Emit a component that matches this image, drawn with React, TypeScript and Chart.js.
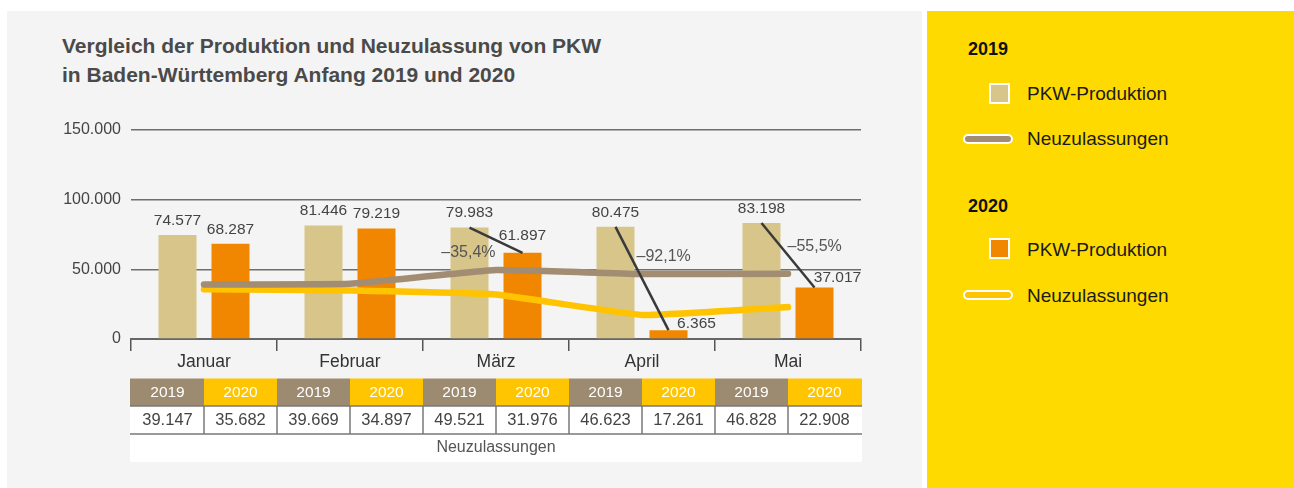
import React, { useEffect, useRef } from 'react';
import { Chart, registerables } from 'chart.js';

Chart.register(...registerables);

// ---------- data ----------
const months = ['Januar', 'Februar', 'März', 'April', 'Mai'];
const years = ['2019', '2020'];
const production2019 = [74577, 81446, 79983, 80475, 83198];
const production2020 = [68287, 79219, 61897, 6365, 37017];
const registrations2019 = [39147, 39669, 49521, 46623, 46828];
const registrations2020 = [35682, 34897, 31976, 17261, 22908];
const changeLabels = ['', '', '–35,4%', '–92,1%', '–55,5%'];
const yTicks = [0, 50000, 100000, 150000];
const titleLines = [
  'Vergleich der Produktion und Neuzulassung von PKW',
  'in Baden-Württemberg Anfang 2019 und 2020',
];
const tableCaption = 'Neuzulassungen';
const legendProduction = 'PKW-Produktion';
const legendRegistrations = 'Neuzulassungen';

// ---------- styles ----------
const FONT = '"Liberation Sans", Arial, Helvetica, sans-serif';
const COL = {
  panel: '#f4f4f4',
  yellow: '#ffda00',
  bar19: '#d7c58a',
  bar20: '#f18700',
  line19: '#a28d72',
  line20: '#ffc300',
  head19: '#9d8b71',
  head20: '#ffc500',
  text: '#444444',
  grid: '#6e6e6e',
};
// label shifts (style only) for the 2020 value labels
const label20Shift = [
  [0, 0],
  [0, 0],
  [0, -3],
  [28, 8],
  [23, 5],
];
const changeLabelPlace: any[] = [
  null,
  null,
  { align: 'right', dx: 26, dy: 25 },
  { align: 'left', dx: 21, dy: 30 },
  { align: 'left', dx: 26, dy: 24 },
];

const fmt = (v: number) => String(v).replace(/\B(?=(\d{3})+(?!\d))/g, '.');

const annotatePlugin = {
  id: 'annotate',
  afterDatasetsDraw(chart: any) {
    const ctx = chart.ctx;
    const m0 = chart.getDatasetMeta(0);
    const m1 = chart.getDatasetMeta(1);
    ctx.save();
    changeLabels.forEach((lab, i) => {
      if (!lab) return;
      const a = m0.data[i];
      const b = m1.data[i];
      ctx.strokeStyle = '#3a3a3a';
      ctx.lineWidth = 2.5;
      ctx.beginPath();
      ctx.moveTo(a.x, a.y);
      ctx.lineTo(b.x, b.y);
      ctx.stroke();
      const p = changeLabelPlace[i];
      ctx.font = `16px ${FONT}`;
      ctx.fillStyle = '#555';
      ctx.textAlign = p.align;
      ctx.textBaseline = 'middle';
      ctx.fillText(lab, a.x + p.dx, a.y + p.dy);
    });
    ctx.font = `15.5px ${FONT}`;
    ctx.fillStyle = COL.text;
    ctx.textAlign = 'center';
    ctx.textBaseline = 'middle';
    m0.data.forEach((el: any, i: number) => {
      ctx.fillText(fmt(production2019[i]), el.x, el.y - 14.5);
    });
    m1.data.forEach((el: any, i: number) => {
      const s = label20Shift[i];
      ctx.fillText(fmt(production2020[i]), el.x + s[0], el.y - 14.5 + s[1]);
    });
    ctx.restore();
  },
};

const tablePlugin = {
  id: 'regTable',
  afterDraw(chart: any) {
    const { ctx, chartArea } = chart;
    const x = chart.scales.x;
    const n = months.length;
    const catW = (x.right - x.left) / n;
    const cellW = catW / 2;
    const left = x.left - 1;
    const right = x.right + 1;
    const top = chartArea.bottom + 39.5;
    const headH = 27.5;
    const rowH = 28;
    const rows = [registrations2019, registrations2020];
    ctx.save();
    // header
    for (let i = 0; i < n; i++) {
      for (let j = 0; j < 2; j++) {
        const cx = x.left + i * catW + j * cellW;
        const l = i === 0 && j === 0 ? left : cx;
        const r = i === n - 1 && j === 1 ? right : cx + cellW;
        ctx.fillStyle = j === 0 ? COL.head19 : COL.head20;
        ctx.fillRect(l, top, r - l, headH);
        ctx.fillStyle = '#ffffff';
        ctx.font = `15.5px ${FONT}`;
        ctx.textAlign = 'center';
        ctx.textBaseline = 'middle';
        ctx.fillText(years[j], cx + cellW / 2, top + headH / 2 + 0.5);
      }
    }
    // white rows
    ctx.fillStyle = '#ffffff';
    ctx.fillRect(left, top + headH, right - left, rowH * 2);
    // values
    for (let i = 0; i < n; i++) {
      for (let j = 0; j < 2; j++) {
        const cx = x.left + i * catW + j * cellW;
        ctx.fillStyle = COL.text;
        ctx.font = `16.5px ${FONT}`;
        ctx.textAlign = 'center';
        ctx.textBaseline = 'middle';
        ctx.fillText(fmt(rows[j][i]), cx + cellW / 2, top + headH + rowH / 2 + 0.5);
      }
    }
    // borders
    ctx.strokeStyle = '#7a7a7a';
    ctx.lineWidth = 1.5;
    ctx.beginPath();
    ctx.moveTo(left, top + headH);
    ctx.lineTo(right, top + headH);
    ctx.moveTo(left, top + headH + rowH);
    ctx.lineTo(right, top + headH + rowH);
    for (let k = 1; k < n * 2; k++) {
      const vx = x.left + k * cellW;
      ctx.moveTo(vx, top + headH);
      ctx.lineTo(vx, top + headH + rowH);
    }
    ctx.stroke();
    // caption
    ctx.fillStyle = '#555';
    ctx.font = `16px ${FONT}`;
    ctx.textAlign = 'center';
    ctx.textBaseline = 'middle';
    ctx.fillText(tableCaption, (left + right) / 2, top + headH + rowH * 1.5);
    ctx.restore();
  },
};

function ChartCanvas() {
  const ref = useRef<HTMLCanvasElement | null>(null);
  useEffect(() => {
    if (!ref.current) return;
    const chart = new Chart(ref.current, {
      type: 'bar',
      data: {
        labels: months,
        datasets: [
          {
            type: 'bar',
            label: '2019 PKW-Produktion',
            data: production2019,
            backgroundColor: COL.bar19,
            categoryPercentage: 0.726,
            barPercentage: 0.717,
            order: 2,
          },
          {
            type: 'bar',
            label: '2020 PKW-Produktion',
            data: production2020,
            backgroundColor: COL.bar20,
            categoryPercentage: 0.726,
            barPercentage: 0.717,
            order: 2,
          },
          {
            type: 'line',
            label: '2019 Neuzulassungen',
            data: registrations2019,
            borderColor: COL.line19,
            borderWidth: 6.5,
            pointRadius: 0,
            tension: 0.1,
            borderCapStyle: 'round',
            borderJoinStyle: 'round',
            order: 1,
          },
          {
            type: 'line',
            label: '2020 Neuzulassungen',
            data: registrations2020,
            borderColor: COL.line20,
            borderWidth: 6.5,
            pointRadius: 0,
            tension: 0.1,
            borderCapStyle: 'round',
            borderJoinStyle: 'round',
            order: 1,
          },
        ] as any,
      },
      options: {
        responsive: false,
        animation: false,
        devicePixelRatio: 1,
        layout: { padding: { left: 0, right: 61, top: 119, bottom: 0 } },
        plugins: { legend: { display: false }, tooltip: { enabled: false } },
        scales: {
          x: {
            offset: true,
            grid: {
              offset: true,
              drawOnChartArea: false,
              drawTicks: true,
              tickLength: 12,
              tickColor: '#555',
              tickWidth: 1.5,
              color: '#555',
              lineWidth: 1.5,
            },
            border: { display: true, color: '#666', width: 2 },
            ticks: { font: { family: FONT, size: 17.5 }, color: '#333', padding: 1, maxRotation: 0 },
            afterFit: (s: any) => {
              s.height = 149;
            },
          },
          y: {
            min: 0,
            max: 150000,
            afterBuildTicks: (s: any) => {
              s.ticks = yTicks.map((v) => ({ value: v }));
            },
            grid: { color: COL.grid, lineWidth: 1.5, drawTicks: false },
            border: { display: false },
            ticks: {
              font: { family: FONT, size: 16 },
              color: COL.text,
              padding: 10,
              callback: (v: any) => fmt(Number(v)),
            },
            afterFit: (s: any) => {
              s.width = 124;
            },
          },
        },
      } as any,
      plugins: [annotatePlugin, tablePlugin],
    });
    return () => chart.destroy();
  }, []);
  return (
    <canvas
      ref={ref}
      width={915}
      height={477}
      style={{ position: 'absolute', left: 7, top: 11, width: 915, height: 477 }}
    />
  );
}

const legendText: React.CSSProperties = {
  position: 'absolute',
  left: 1027,
  fontFamily: FONT,
  fontSize: 19,
  color: '#1a1a1a',
  lineHeight: '22px',
  whiteSpace: 'nowrap',
};
const legendHead: React.CSSProperties = {
  position: 'absolute',
  left: 968,
  fontFamily: FONT,
  fontSize: 18,
  fontWeight: 'bold',
  color: '#111',
  lineHeight: '22px',
};

function LegendSquare({ top, color }: { top: number; color: string }) {
  return (
    <div
      style={{
        position: 'absolute',
        left: 989,
        top,
        width: 17,
        height: 17,
        background: color,
        border: '2px solid #fff',
      }}
    />
  );
}
function LegendPill({ top, color }: { top: number; color: string }) {
  return (
    <div
      style={{
        position: 'absolute',
        left: 963,
        top,
        width: 46,
        height: 6,
        background: color,
        border: '2px solid #fff',
        borderRadius: 6,
      }}
    />
  );
}

export default function App() {
  return (
    <div
      style={{
        position: 'absolute',
        left: 0,
        top: 0,
        width: 1294,
        height: 488,
        background: '#fff',
        overflow: 'hidden',
      }}
    >
      <div style={{ position: 'absolute', left: 7, top: 11, width: 915, height: 477, background: COL.panel }} />
      <div style={{ position: 'absolute', left: 927, top: 11, width: 367, height: 477, background: COL.yellow }} />
      <div
        style={{
          position: 'absolute',
          left: 62,
          top: 31,
          fontFamily: FONT,
          fontWeight: 'bold',
          fontSize: 21,
          lineHeight: '29px',
          color: '#4a4a4a',
          whiteSpace: 'nowrap',
        }}
      >
        {titleLines.map((t) => (
          <div key={t}>{t}</div>
        ))}
      </div>
      <ChartCanvas />
      <div style={{ ...legendHead, top: 38 }}>{years[0]}</div>
      <LegendSquare top={83} color={COL.bar19} />
      <div style={{ ...legendText, top: 83 }}>{legendProduction}</div>
      <LegendPill top={134} color={COL.line19} />
      <div style={{ ...legendText, top: 128 }}>{legendRegistrations}</div>
      <div style={{ ...legendHead, top: 195 }}>{years[1]}</div>
      <LegendSquare top={238} color={COL.bar20} />
      <div style={{ ...legendText, top: 239 }}>{legendProduction}</div>
      <LegendPill top={290} color={COL.line20} />
      <div style={{ ...legendText, top: 285 }}>{legendRegistrations}</div>
    </div>
  );
}
